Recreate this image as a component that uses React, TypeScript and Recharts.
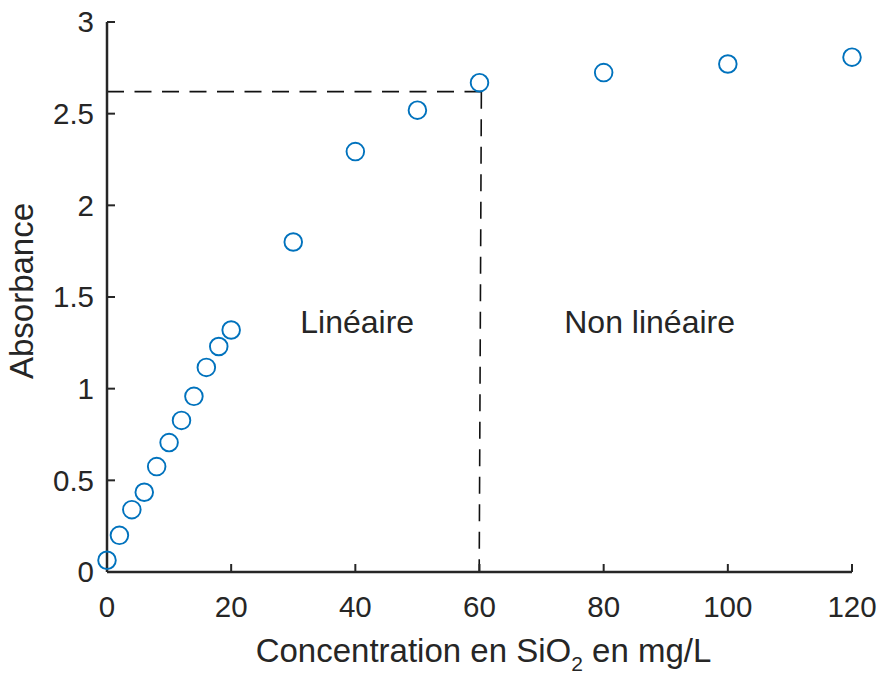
import React from 'react';
import { ComposedChart, Scatter, XAxis, YAxis, ReferenceLine, ReferenceDot, Label } from 'recharts';

// SiO2 calibration: concentration (mg/L) vs absorbance
const concentration = [0, 2, 4, 6, 8, 10, 12, 14, 16, 18, 20, 30, 40, 50, 60, 80, 100, 120];
const absorbance = [
  0.064, 0.2, 0.34, 0.435, 0.575, 0.706, 0.827, 0.958, 1.116, 1.23, 1.32,
  1.8, 2.293, 2.519, 2.669, 2.724, 2.771, 2.808,
];
const xTicks = [0, 20, 40, 60, 80, 100, 120];
const yTicks = [0, 0.5, 1, 1.5, 2, 2.5, 3];

// dashed guide marking the end of the linear range
const limitAbsorbance = 2.62;
const limitTop = 60.3;
const limitBottom = 59.95;

const regionLabels = ['Linéaire', 'Non linéaire'];
const regionX = [40.3, 87.4];
const regionY = [1.367, 1.367];

const points = concentration.map((c, i) => ({ x: c, y: absorbance[i] }));

const FONT = "'Liberation Sans', Arial, Helvetica, sans-serif";
const INK = '#262626';
const BLUE = '#0072BD';
const DASH = '17 10.5';

const Ring = (props: any) => (
  <circle cx={props.cx} cy={props.cy} r={8.8} fill="none" stroke={BLUE} strokeWidth={1.9} />
);

const XTitle = (props: any) => {
  const vb = props.viewBox;
  return (
    <text
      x={vb.x + vb.width / 2 + 4}
      y={vb.y + 90}
      textAnchor="middle"
      fontFamily={FONT}
      fontSize={33}
      fill={INK}
    >
      Concentration en SiO
      <tspan dy={9} fontSize={21}>2</tspan>
      <tspan dy={-9}> en mg/L</tspan>
    </text>
  );
};

const YTitle = (props: any) => {
  const vb = props.viewBox;
  const x = vb.x + 33;
  const y = vb.y + vb.height / 2 - 6;
  return (
    <text
      x={x}
      y={y}
      transform={`rotate(-90, ${x}, ${y})`}
      textAnchor="middle"
      fontFamily={FONT}
      fontSize={33}
      fill={INK}
    >
      Absorbance
    </text>
  );
};

export default function App() {
  const axisLine = { stroke: INK, strokeWidth: 2.5 };
  const tickLine = { stroke: INK, strokeWidth: 2 };
  const tick = { fill: INK, fontSize: 29.5, fontFamily: FONT };
  const guide = { stroke: '#111', strokeWidth: 1.6, strokeDasharray: DASH };

  return (
    <div style={{ position: 'absolute', left: 0, top: 0, width: 880, height: 677, background: '#fff' }}>
      <ComposedChart width={880} height={677} margin={{ top: 22, right: 28, bottom: 0, left: 0 }}>
        <XAxis
          type="number"
          dataKey="x"
          domain={[0, 120]}
          ticks={xTicks}
          interval={0}
          height={105}
          axisLine={axisLine}
          tickLine={tickLine}
          tickSize={-8}
          tickMargin={32}
          tick={tick}
        >
          <Label content={<XTitle />} />
        </XAxis>
        <YAxis
          type="number"
          dataKey="y"
          domain={[0, 3]}
          ticks={yTicks}
          interval={0}
          width={107}
          axisLine={axisLine}
          tickLine={tickLine}
          tickSize={-8}
          tickMargin={21}
          tick={tick}
        >
          <Label content={<YTitle />} />
        </YAxis>
        <ReferenceLine
          segment={[{ x: 0, y: limitAbsorbance }, { x: limitTop, y: limitAbsorbance }]}
          {...guide}
          ifOverflow="visible"
        />
        <ReferenceLine
          segment={[{ x: limitTop, y: limitAbsorbance }, { x: limitBottom, y: 0 }]}
          {...guide}
          ifOverflow="visible"
        />
        {regionLabels.map((t, i) => (
          <ReferenceDot
            key={t}
            x={regionX[i]}
            y={regionY[i]}
            r={0}
            fill="none"
            stroke="none"
            ifOverflow="visible"
            label={{ value: t, position: 'center', fill: INK, fontSize: 32, fontFamily: FONT }}
          />
        ))}
        <Scatter data={points} shape={<Ring />} isAnimationActive={false} />
      </ComposedChart>
    </div>
  );
}
